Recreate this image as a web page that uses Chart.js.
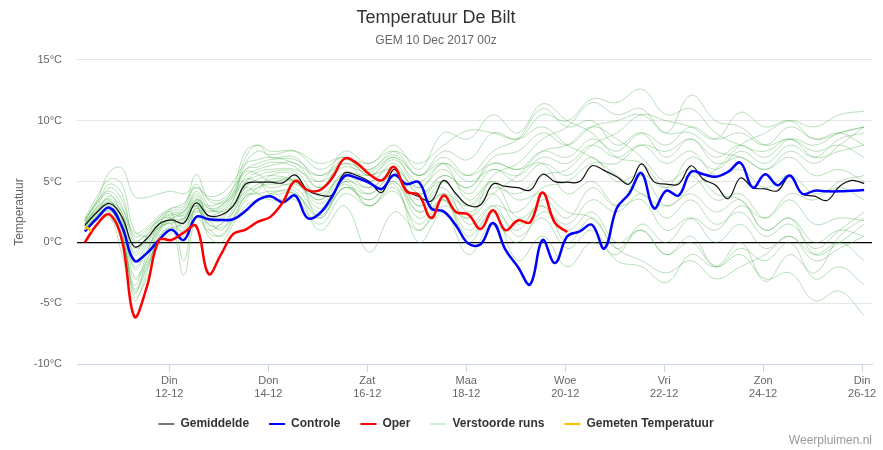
<!DOCTYPE html>
<html>
<head>
<meta charset="utf-8">
<title>Temperatuur De Bilt</title>
<script src="https://cdn.jsdelivr.net/npm/chart.js@4.4.0/dist/chart.umd.min.js"></script>
<style>
  body { margin: 0; background: #fff; }
  #wrap { position: relative; width: 883px; height: 450px; }
  #credits { position: absolute; right: 11px; top: 433px; font: 12px "Liberation Sans", Arial, sans-serif; color: #999; }
</style>
</head>
<body>
<div id="wrap">
  <canvas id="chart" width="883" height="450"></canvas>
  <div id="credits">Weerpluimen.nl</div>
</div>
<script>
// x = uren sinds 10-12 00:00 (lokale tijd), run start 10-12 06z
const tickHours = [48, 96, 144, 192, 240, 288, 336, 384];
const tickDays = ['Din', 'Don', 'Zat', 'Maa', 'Woe', 'Vri', 'Zon', 'Din'];
const tickDates = ['12-12', '14-12', '16-12', '18-12', '20-12', '22-12', '24-12', '26-12'];

const runHours = [7, 13, 19, 25, 31, 37, 43, 49, 55, 61, 67, 73, 79, 85, 91, 97,
  103, 109, 115, 121, 127, 133, 139, 145, 151, 157, 163, 169, 175, 181, 187, 193,
  199, 205, 211, 217, 223, 229, 235, 241, 247, 253, 259, 265, 271, 277, 283, 289,
  295, 301, 307, 313, 319, 325, 331, 337, 343, 349, 355, 361, 367, 373, 379, 385];

const gemiddelde = [1.4, 2.5, 3.2, 2.1, -0.35, 0.3, 1.5, 1.85, 1.6, 3.25, 2.2, 2.25, 3.0, 4.8, 4.95, 4.95,
  4.9, 5.55, 4.3, 3.9, 3.9, 5.7, 5.5, 5.0, 4.1, 6.0, 4.3, 3.75, 3.4, 5.1, 4.0, 3.05,
  3.1, 4.8, 4.6, 4.5, 4.3, 5.6, 5.0, 4.95, 5.0, 6.3, 5.9, 5.4, 4.8, 6.45, 5.0, 4.8,
  4.8, 6.3, 5.2, 4.7, 3.6, 5.3, 4.5, 4.4, 4.25, 5.45, 4.0, 3.8, 3.45, 4.6, 5.1, 4.85];

const controle = [0.9, 2.0, 2.85, 1.3, -1.5, -0.9, 0.2, 1.05, 0.2, 2.1, 1.9, 1.85, 1.9, 2.6, 3.5, 3.8,
  3.3, 3.85, 2.0, 2.4, 3.8, 5.45, 5.3, 4.9, 4.4, 5.55, 4.8, 4.95, 2.8, 2.55, 1.4, -0.1,
  -0.15, 1.6, -0.6, -2.0, -3.45, 0.2, -1.7, 0.5, 0.9, 1.45, -0.5, 2.8, 4.0, 5.7, 2.8, 4.25,
  3.85, 5.8, 5.6, 5.4, 5.8, 6.55, 4.5, 5.6, 4.7, 5.5, 4.0, 4.25, 4.2, 4.2, 4.25, 4.3];

const oper = [0.0, 1.5, 2.3, 0.2, -6.1, -3.7, 0.2, 0.2, 0.8, 1.35, -2.6, -1.0, 0.7, 1.05, 1.7, 2.1,
  3.3, 5.05, 4.3, 4.3, 5.3, 6.9, 6.5, 5.6, 5.1, 6.2, 4.2, 3.9, 2.0, 3.85, 2.5, 2.3,
  1.1, 2.65, 1.0, 1.8, 1.65, 4.1, 1.6, 0.85];

const gemetenHours = [7, 8, 9, 10];
const gemeten = [1.1, 1.2, 1.1, 0.9];

// verstoorde runs: 6-uurlijks tot dag 4, daarna 12-uurlijks
const memberHours = [7, 13, 19, 25, 31, 37, 43, 49, 55, 61, 67, 73, 79, 85, 91, 97,
  109, 121, 133, 145, 157, 169, 181, 193, 205, 217, 229, 241, 253, 265, 277, 289,
  301, 313, 325, 337, 349, 361, 373, 385];

const run01 = [1.8, 3.5, 5.8, 6.1, 3.8, 3.7, 4.0, 4.2, 4.0, 4.5, 3.6, 3.5, 4.5, 6.0, 6.5, 6.8, 6.8, 5.5, 6.5, 6.0, 7.2, 5.5, 7.5, 6.8, 9.0, 8.5, 10.5, 10.0, 11.8, 11.5, 12.6, 10.5, 11.0, 9.0, 8.0, 7.5, 8.5, 7.0, 7.5, 8.0];
const run02 = [1.2, 2.0, 2.2, -1.0, -4.8, -2.5, 0.5, 1.2, 1.0, 2.8, 1.5, 1.2, 2.0, 3.8, 4.2, 5.5, 5.5, 2.0, 5.0, 3.0, 4.5, 1.0, 3.5, 0.5, 2.5, -1.5, 0.5, -2.0, 0.0, -1.0, 1.5, 0.0, 2.0, 1.0, 3.0, 2.0, 4.0, 3.5, 5.0, 5.5];
const run03 = [1.5, 2.8, 3.5, 1.0, -4.2, -1.5, 1.0, 2.2, 2.5, 3.8, 2.0, 1.8, 3.5, 6.5, 7.5, 7.2, 7.5, 6.5, 7.0, 6.0, 7.5, 6.5, 8.0, 9.2, 9.0, 8.5, 9.5, 8.0, 7.0, 5.5, 4.0, 3.0, 4.5, 6.0, 8.0, 9.0, 10.0, 9.5, 10.5, 10.8];
const run04 = [1.0, 2.2, 2.8, 0.5, -3.5, -1.0, 1.5, 2.5, -1.5, 3.0, 0.5, 0.0, 1.5, 3.0, 3.5, 4.0, 4.2, 1.0, 3.0, -0.8, 2.5, 1.0, 3.0, 2.0, 4.0, 5.5, 7.5, 8.0, 9.5, 8.5, 7.0, 5.0, 6.0, 4.0, 3.5, 1.0, 2.0, -1.0, 0.0, 1.5];
const run05 = [1.6, 3.0, 4.5, 3.5, 0.5, 1.0, 2.0, 2.6, 2.8, 4.8, 3.0, 2.5, 3.5, 5.5, 6.0, 6.3, 6.5, 4.5, 6.8, 5.5, 7.0, 4.5, 6.5, 5.5, 7.5, 8.5, 11.0, 9.5, 10.0, 8.0, 9.0, 7.0, 8.5, 6.5, 7.0, 6.0, 7.5, 6.5, 8.0, 9.5];
const run06 = [1.3, 2.4, 3.0, 1.5, -2.8, -1.5, 0.8, 1.8, 2.0, 3.0, 2.5, 2.8, 3.8, 5.0, 5.5, 5.8, 5.8, 3.8, 5.5, 4.5, 5.8, 3.0, 4.5, 1.5, 3.0, 0.5, 2.0, -0.5, 1.0, -1.5, -2.0, -3.3, -1.0, -2.0, 0.0, -3.2, -1.0, -2.5, 0.5, 2.0];
const run07 = [2.0, 3.8, 5.2, 4.8, 1.0, 0.5, 1.2, 1.5, -2.7, 2.0, 1.0, 1.5, 2.5, 4.5, 5.0, 4.0, 4.0, 2.0, 4.5, 3.5, 5.0, 2.5, 4.0, 2.0, 5.5, 6.5, 8.5, 9.5, 11.5, 10.5, 11.0, 9.0, 12.1, 10.0, 9.5, 8.0, 8.5, 7.5, 8.0, 7.0];
const run08 = [1.1, 2.0, 2.5, 0.0, -4.5, -3.0, -0.2, 0.8, 1.8, 3.5, 2.8, 3.0, 4.0, 5.2, 5.0, 4.5, 4.8, 3.5, 5.8, 5.0, 6.2, 4.0, 5.0, 3.0, 4.5, 4.0, 5.5, 6.0, 8.0, 9.0, 10.5, 10.0, 9.5, 8.5, 10.7, 9.5, 10.0, 8.5, 9.0, 9.5];
const run09 = [1.4, 2.6, 3.8, 2.8, 0.8, 1.2, 2.2, 2.8, 3.0, 5.6, 3.5, 3.2, 4.0, 7.0, 8.0, 7.0, 7.0, 5.0, 7.5, 6.5, 8.0, 6.0, 9.0, 8.5, 10.5, 9.0, 11.4, 10.0, 9.0, 7.0, 6.5, 4.5, 5.5, 3.5, 4.0, 2.0, 3.5, 1.5, 2.0, 1.8];
const run10 = [1.7, 3.2, 4.0, 2.0, -2.0, -0.5, 1.0, 2.0, 2.5, 4.0, 2.0, 1.0, 2.5, 4.0, 4.8, 5.0, 5.0, 3.5, 5.2, 4.0, 5.5, 3.0, 5.0, 2.5, 4.0, 1.5, 3.0, 0.0, 2.0, -0.5, 1.0, -1.0, 0.5, -2.0, -1.0, -3.0, -2.5, -4.8, -4.0, -6.0];
const run11 = [1.2, 2.1, 2.6, 1.2, -3.8, -2.0, 0.2, 1.0, 0.5, 2.5, 1.8, 2.0, 3.2, 4.5, 4.0, 3.5, 3.5, 1.5, 4.0, 3.0, 4.2, 1.5, 3.5, 0.0, 2.5, 1.0, 3.5, 2.0, 4.5, 3.0, 5.5, 4.5, 7.0, 6.0, 7.5, 6.5, 8.0, 7.0, 8.5, 9.0];
const run12 = [1.5, 2.7, 3.3, 2.5, -1.0, 0.0, 1.6, 2.3, 2.2, 3.5, 3.0, 3.3, 4.2, 6.0, 6.2, 6.6, 6.2, 4.5, 6.5, 5.0, 6.5, 4.0, 5.5, 4.5, 7.0, 7.5, 9.0, 8.0, 9.5, 10.0, 10.5, 9.0, 9.0, 7.5, 7.0, 6.0, 7.0, 5.5, 6.0, 5.0];
const run13 = [1.9, 3.3, 4.8, 4.0, 0.2, 0.6, 1.5, 1.8, 0.8, 2.8, 2.2, 2.5, 3.0, 4.2, 4.5, 5.2, 5.0, 3.2, 5.0, 4.5, 5.5, 2.5, 4.0, 3.0, 5.0, 3.5, 4.0, 2.5, 2.0, -0.5, -1.5, -2.5, -1.5, -3.0, -2.0, -1.0, 0.5, -1.5, -0.5, 0.5];
const run14 = [1.0, 1.8, 2.0, 0.3, -3.0, -1.8, 0.4, 1.5, 2.0, 3.2, 1.2, 0.5, 1.8, 3.5, 4.5, 4.8, 4.5, 2.5, 4.5, 3.5, 5.0, 2.0, 3.5, 1.0, 3.0, 2.5, 4.5, 5.0, 6.5, 6.5, 8.0, 7.5, 8.5, 7.0, 8.0, 7.0, 8.5, 8.0, 9.0, 9.5];
const run15 = [1.6, 2.9, 3.6, 2.4, -0.5, 0.2, 1.8, 2.4, 2.6, 4.2, 2.8, 2.6, 3.8, 5.8, 5.6, 5.0, 5.2, 4.0, 5.6, 5.5, 6.0, 4.5, 6.0, 4.0, 6.0, 5.0, 6.5, 5.5, 7.0, 5.0, 5.5, 3.0, 4.0, 2.5, 3.5, 1.0, 2.0, 0.0, 1.0, 0.5];
const run16 = [1.3, 2.3, 2.7, 0.8, -4.0, -2.2, 0.3, 1.2, 1.5, 2.6, 2.0, 2.2, 3.0, 5.0, 5.8, 6.0, 6.0, 5.0, 6.2, 5.8, 7.0, 5.5, 6.5, 3.5, 5.0, 2.0, 3.0, 1.0, 2.5, 0.0, 1.0, -1.0, 0.0, -2.0, -0.5, -1.5, 0.0, -3.0, -2.0, -3.5];
const run17 = [1.8, 3.4, 4.2, 3.0, 0.0, 0.8, 1.8, 2.0, 1.2, 3.4, 2.6, 3.0, 4.5, 7.5, 8.0, 7.5, 7.5, 6.0, 7.0, 5.5, 6.8, 5.0, 6.5, 5.0, 6.0, 5.5, 7.0, 6.5, 8.0, 7.0, 8.0, 6.5, 7.5, 5.5, 6.0, 4.5, 5.5, 4.0, 4.5, 3.5];
const run18 = [1.4, 2.5, 3.1, 1.8, -2.2, -0.8, 1.2, 2.0, 2.3, 3.6, 1.5, 1.5, 2.8, 4.6, 5.2, 5.5, 5.0, 2.8, 4.8, 3.0, 4.8, 0.0, 2.5, -1.0, 1.5, 0.0, 2.5, 1.5, 3.5, 2.5, 4.0, 2.0, 3.5, 1.5, 2.5, 0.5, 1.5, -0.5, 1.0, 2.5];
const run19 = [1.1, 2.2, 2.9, 1.4, -1.5, -0.2, 1.3, 1.6, 1.9, 3.0, 0.8, 0.6, 2.0, 3.8, 4.0, 4.2, 4.0, 2.2, 4.5, 4.0, 5.5, 3.5, 5.5, 4.5, 6.5, 6.0, 7.5, 7.0, 8.5, 7.5, 9.0, 8.0, 9.5, 8.5, 9.0, 8.0, 9.5, 8.5, 9.0, 8.0];
const run20 = [1.5, 2.6, 3.4, 2.0, -0.8, 0.5, 2.0, 2.8, 3.2, 4.5, 3.8, 4.0, 5.0, 6.5, 6.8, 7.0, 6.5, 5.5, 6.8, 6.5, 7.5, 5.5, 7.0, 5.5, 6.5, 6.0, 6.5, 4.0, 5.0, 3.0, 3.5, 1.0, 2.0, 0.0, 1.5, -0.5, 0.5, -1.0, 0.0, -1.5];

const verstoordeRuns = [run01, run02, run03, run04, run05, run06, run07, run08, run09, run10,
  run11, run12, run13, run14, run15, run16, run17, run18, run19, run20];

const pts = (hours, vals) => vals.map((v, i) => ({ x: hours[i], y: v }));

Chart.defaults.font.family = '"Liberation Sans", Arial, sans-serif';

const datasets = [
  { label: 'Gemeten Temperatuur', data: pts(gemetenHours, gemeten), borderColor: '#ffc000', borderWidth: 2.5, legendColor: '#ffc000' },
  { label: 'Oper', data: pts(runHours, oper), borderColor: '#ff0000', borderWidth: 2.5, legendColor: '#ff0000' },
  { label: 'Controle', data: pts(runHours, controle), borderColor: '#0000ff', borderWidth: 2.5, legendColor: '#0000ff' },
  { label: 'Gemiddelde', data: pts(runHours, gemiddelde), borderColor: '#111', borderWidth: 1.2, legendColor: '#777' }
];
verstoordeRuns.forEach(run => {
  datasets.push({ label: 'Verstoorde runs', data: pts(memberHours, run), borderColor: 'rgba(60,170,60,0.36)', borderWidth: 1, legendColor: '#d4edd4' });
});
datasets.forEach(d => { d.pointRadius = 0; d.tension = 0.4; d.fill = false; });

const legendOrder = [3, 2, 1, 4, 0];

new Chart(document.getElementById('chart'), {
  type: 'line',
  data: { datasets: datasets },
  options: {
    responsive: false,
    animation: false,
    events: [],
    layout: { padding: { left: 0, right: 11, top: 0, bottom: 10 } },
    plugins: {
      title: {
        display: true, text: 'Temperatuur De Bilt', color: '#333',
        font: { size: 18, weight: 'normal' }, padding: { top: 7, bottom: 5 }
      },
      subtitle: {
        display: true, text: 'GEM 10 Dec 2017 00z', color: '#666',
        font: { size: 12, weight: 'normal' }, padding: { top: 0, bottom: 12 }
      },
      legend: {
        position: 'bottom',
        labels: {
          boxWidth: 16, boxHeight: 2, padding: 20, color: '#333',
          font: { size: 12, weight: 'bold' },
          generateLabels: chart => legendOrder.map(i => ({
            text: chart.data.datasets[i].label,
            fillStyle: chart.data.datasets[i].legendColor,
            strokeStyle: chart.data.datasets[i].legendColor,
            lineWidth: 0,
            hidden: false,
            datasetIndex: i,
            fontColor: '#333'
          }))
        }
      },
      tooltip: { enabled: false }
    },
    scales: {
      x: {
        type: 'linear', min: 3.2, max: 388.8,
        afterBuildTicks: s => { s.ticks = tickHours.map(v => ({ value: v })); },
        ticks: {
          autoSkip: false, maxRotation: 0, color: '#666', padding: 2,
          font: { size: 11, lineHeight: 1.2 },
          callback: (v, i) => [tickDays[i], tickDates[i]]
        },
        grid: { drawOnChartArea: false, drawTicks: true, tickLength: 8, color: '#ccd6eb' },
        border: { color: '#ccd6eb' },
        afterFit: s => { s.height = 34; }
      },
      y: {
        min: -10, max: 15,
        ticks: { stepSize: 5, padding: 15, color: '#666', font: { size: 11 }, callback: v => v + '°C' },
        grid: {
          drawTicks: false,
          color: c => c.tick.value === 0 ? '#000' : (c.tick.value === -10 ? 'rgba(0,0,0,0)' : '#e6e6e6'),
          lineWidth: c => c.tick.value === 0 ? 1.3 : 1
        },
        border: { display: false },
        title: { display: true, text: 'Temperatuur', color: '#666', font: { size: 12 }, padding: { top: 12, bottom: 0 } },
        afterFit: s => { s.width = 77; }
      }
    }
  }
});
</script>
</body>
</html>
